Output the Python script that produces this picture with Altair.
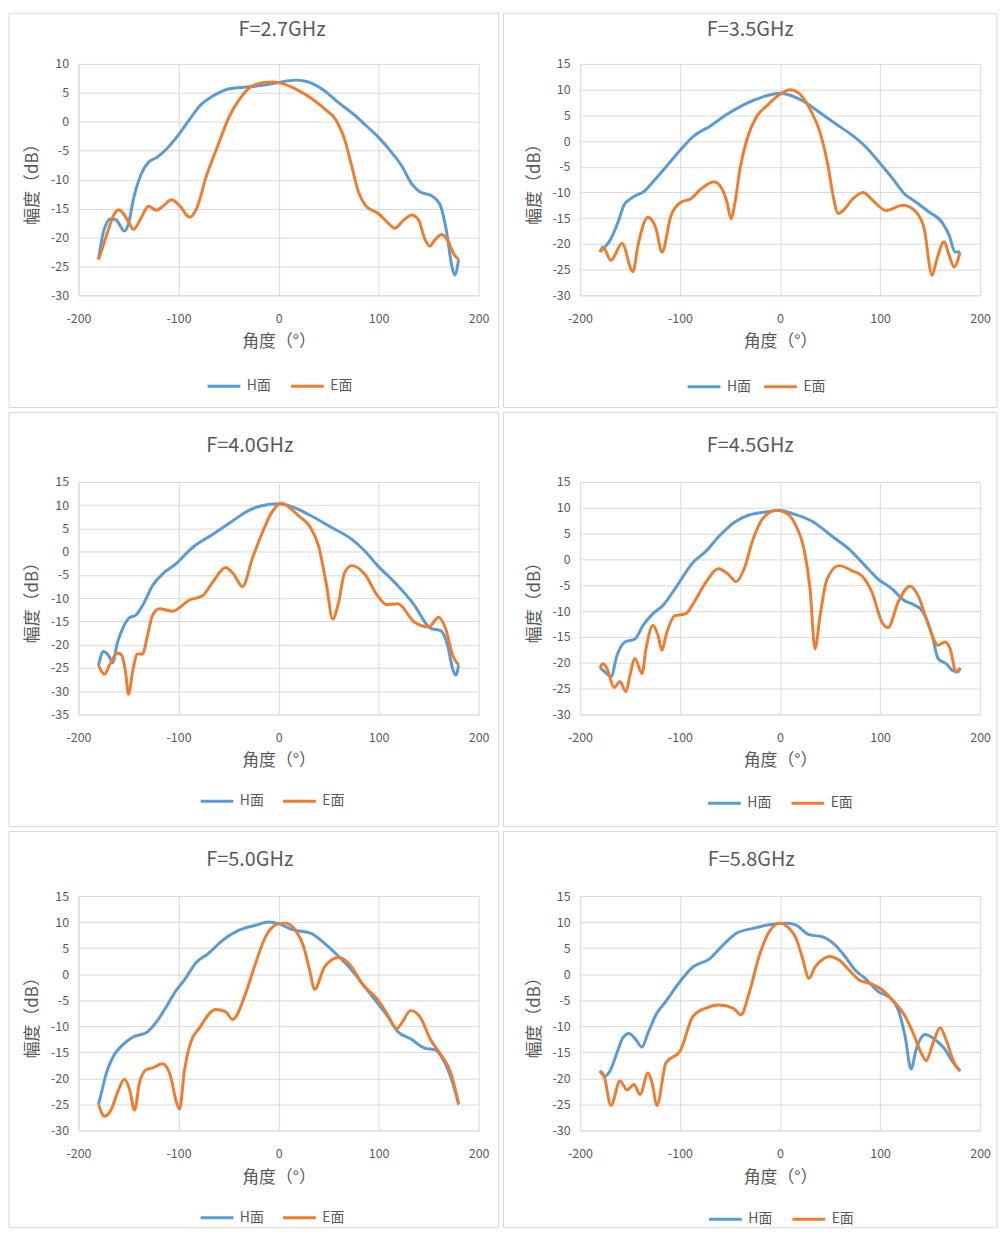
import altair as alt
import pandas as pd

FONT = "Noto Sans CJK SC"
TEXT_COLOR = "#595959"
GRID_COLOR = "#d9d9d9"
SERIES = ["H面", "E面"]
SERIES_COLORS = ["#5B9BD5", "#ED7D31"]
X_TITLE = "角度（°）"
Y_TITLE = "幅度（dB）"
X_TICKS = [-200, -100, 0, 100, 200]

TITLES = ["F=2.7GHz", "F=3.5GHz", "F=4.0GHz", "F=4.5GHz", "F=5.0GHz", "F=5.8GHz"]
Y_MIN = [-30, -30, -35, -30, -30, -30]
Y_MAX = [10, 15, 15, 15, 15, 15]

# ---- F = 2.7 GHz ----
H27_ANG = [-180, -175, -168, -163, -154, -150, -145, -138, -130, -122, -112, -102, -89, -79, -66, -49, -32, -16, 0,
           17, 27, 44, 60, 77, 87, 100, 113, 123, 133, 141, 153, 161, 168, 173, 176, 180]
H27_DB = [-23.8, -19.0, -16.8, -16.9, -18.9, -17.6, -13.3, -9.3, -7.0, -6.2, -4.7, -2.7, 0.4, 2.7, 4.4, 5.7, 6.0, 6.3, 6.8,
          7.2, 7.0, 5.6, 3.3, 1.0, -0.6, -2.7, -5.3, -7.6, -10.7, -12.1, -12.8, -14.2, -19.1, -24.8, -26.5, -23.8]
E27_ANG = [-180, -178, -171, -165, -160, -155, -150, -145, -138, -130, -122, -115, -107, -99, -89, -82, -72, -62, -49,
           -39, -26, -13, -6, 4, 21, 34, 47, 57, 67, 73, 80, 87, 100, 110, 116, 125, 133, 140, 146, 151, 156, 163,
           169, 176, 180]
E27_DB = [-23.8, -22.8, -19.1, -16.2, -15.2, -15.9, -17.3, -18.6, -16.8, -14.6, -15.3, -14.5, -13.5, -14.5, -16.5, -15.0,
          -9.3, -4.7, 1.0, 3.9, 6.2, 6.8, 6.9, 6.6, 5.3, 3.9, 2.1, 0.4, -3.6, -7.6, -12.2, -14.5, -15.9, -17.6, -18.4,
          -17.0, -16.1, -17.0, -20.2, -21.5, -20.5, -19.5, -20.5, -23.1, -23.8]

# ---- F = 3.5 GHz ----
H35_ANG = [-180, -175, -169, -162, -156, -147, -136, -126, -113, -99, -86, -70, -53, -36, -17, 0, 10, 23, 40, 56, 73,
           86, 99, 113, 123, 136, 149, 162, 169, 175, 180]
H35_DB = [-21.5, -20.6, -19.0, -15.8, -12.5, -10.9, -9.8, -7.7, -4.8, -1.6, 1.0, 2.9, 5.2, 7.1, 8.6, 9.3, 8.9, 7.8, 5.5,
          3.3, 1.0, -1.2, -4.1, -7.4, -10.0, -11.9, -13.8, -15.8, -18.3, -21.6, -21.6]
E35_ANG = [-180, -177, -169, -158, -147, -142, -132, -124, -118, -109, -99, -89, -79, -66, -58, -53, -49, -45, -40, -33,
           -23, -13, 0, 10, 20, 30, 40, 48, 53, 58, 63, 73, 83, 93, 106, 123, 136, 144, 152, 156, 164, 169, 174, 180]
E35_DB = [-21.6, -20.6, -23.2, -19.9, -25.4, -20.3, -14.8, -17.0, -21.6, -14.5, -11.9, -11.2, -9.3, -7.9, -9.3, -11.9,
          -15.1, -11.9, -5.4, 0.4, 4.9, 6.9, 9.1, 10.0, 9.1, 6.2, 1.7, -4.8, -10.6, -14.1, -13.5, -11.2, -10.0, -11.6,
          -13.5, -12.5, -13.8, -17.0, -26.1, -23.5, -19.6, -22.2, -24.5, -21.6]

# ---- F = 4.0 GHz ----
H40_ANG = [-180, -175, -169, -166, -161, -156, -149, -143, -136, -126, -116, -103, -86, -66, -46, -33, -17, 0, 13, 30,
           53, 73, 86, 99, 116, 136, 149, 152, 162, 169, 174, 177, 180]
H40_DB = [-24.4, -21.5, -22.7, -23.9, -19.5, -16.6, -14.2, -13.7, -11.6, -7.3, -4.8, -2.7, 0.9, 3.7, 6.6, 8.5, 9.9, 10.3,
          9.7, 8.0, 5.2, 2.7, 0.2, -3.0, -6.6, -11.6, -15.9, -16.5, -17.0, -20.2, -25.2, -26.6, -24.4]
E40_ANG = [-180, -174, -169, -161, -157, -153, -150, -146, -141, -136, -131, -126, -119, -106, -89, -76, -66, -53, -45,
           -36, -26, -17, -7, 3, 13, 20, 31, 40, 48, 54, 60, 66, 73, 86, 99, 108, 119, 136, 150, 160, 167, 174, 180]
E40_DB = [-24.4, -26.4, -24.4, -21.8, -22.2, -25.9, -30.7, -25.9, -22.0, -22.0, -18.0, -13.7, -12.3, -12.8, -10.4, -9.5,
          -6.6, -3.4, -4.8, -7.5, -1.3, 3.7, 8.4, 10.4, 9.1, 7.7, 5.5, 1.2, -7.3, -14.5, -10.9, -4.5, -3.0, -4.8, -9.5,
          -11.4, -11.2, -15.2, -16.2, -14.1, -16.6, -22.3, -24.4]

# ---- F = 4.5 GHz ----
H45_ANG = [-180, -175, -169, -163, -155, -145, -137, -127, -117, -104, -87, -74, -61, -44, -31, -14, 0, 12, 32, 52, 69,
           85, 98, 112, 123, 135, 142, 152, 158, 166, 173, 178, 180]
H45_DB = [-21.0, -21.8, -22.7, -18.6, -16.0, -15.4, -12.8, -10.5, -8.9, -5.4, -0.6, 1.6, 4.5, 7.4, 8.6, 9.2, 9.5, 8.9,
          7.4, 4.5, 2.0, -1.2, -3.8, -5.7, -7.8, -8.9, -9.9, -14.7, -19.2, -20.2, -21.6, -21.8, -21.0]
E45_ANG = [-180, -177, -173, -166, -160, -154, -150, -145, -138, -134, -127, -122, -118, -114, -105, -94, -86, -74, -62,
           -52, -44, -36, -27, -18, -4, 6, 16, 24, 30, 35, 40, 47, 59, 72, 82, 92, 102, 108, 118, 130, 138, 148, 158,
           165, 170, 176, 180]
E45_DB = [-21.0, -20.2, -21.1, -24.8, -23.7, -25.6, -22.4, -19.2, -22.1, -17.3, -12.8, -14.7, -17.6, -14.7, -10.9,
          -10.5, -8.3, -4.4, -1.8, -2.8, -4.3, -1.9, 3.9, 7.7, 9.5, 9.0, 6.5, 2.0, -5.7, -17.3, -10.9, -3.8, -1.2, -2.2,
          -3.2, -6.4, -12.2, -13.2, -8.3, -5.2, -7.0, -12.5, -16.6, -16.0, -17.3, -21.8, -21.0]

# ---- F = 5.0 GHz ----
H50_ANG = [-180, -177, -172, -165, -157, -146, -132, -123, -113, -103, -93, -83, -70, -56, -40, -23, -10, 0, 13, 33, 46,
           60, 73, 86, 99, 109, 119, 132, 146, 156, 166, 175, 180]
H50_DB = [-25.0, -22.7, -18.9, -15.7, -13.8, -12.1, -11.2, -9.4, -6.5, -3.3, -0.8, 2.1, 4.0, 6.5, 8.4, 9.4, 10.0, 9.7,
          8.6, 7.8, 5.9, 3.4, 0.8, -2.4, -5.6, -8.1, -11.0, -12.4, -14.2, -14.5, -17.0, -21.5, -25.0]
E50_ANG = [-180, -174, -167, -161, -154, -149, -144, -139, -132, -126, -116, -108, -102, -99, -94, -88, -79, -63, -53,
           -46, -33, -23, -13, 0, 7, 17, 25, 31, 36, 46, 60, 73, 83, 99, 109, 118, 123, 132, 141, 152, 162, 172, 180]
E50_DB = [-25.0, -27.3, -25.9, -22.7, -20.2, -22.1, -26.1, -20.8, -18.3, -18.0, -17.2, -19.6, -24.7, -25.9, -18.3,
          -13.2, -10.3, -6.8, -7.2, -8.7, -3.7, 2.1, 7.2, 9.7, 9.8, 8.4, 5.3, 0.8, -2.9, 1.4, 3.2, 1.4, -1.7, -4.9, -7.8,
          -10.5, -9.4, -7.0, -8.1, -12.6, -15.4, -18.9, -25.0]

# ---- F = 5.8 GHz ----
H58_ANG = [-180, -175, -170, -163, -157, -151, -144, -138, -132, -124, -114, -100, -87, -70, -57, -44, -27, -11, 6, 16,
           29, 42, 55, 65, 75, 85, 98, 112, 118, 125, 131, 136, 145, 155, 164, 173, 180]
H58_DB = [-18.6, -19.6, -18.6, -15.1, -12.2, -11.4, -12.6, -14.0, -11.3, -7.8, -5.2, -1.4, 1.4, 3.0, 5.6, 7.8, 8.8, 9.5,
          9.8, 9.4, 7.6, 7.2, 5.6, 3.4, 0.8, -0.8, -3.3, -4.9, -6.8, -11.9, -18.2, -14.5, -11.6, -12.6, -14.2, -17.0,
          -18.6]
E58_ANG = [-180, -176, -169, -160, -153, -146, -140, -132, -128, -123, -114, -100, -87, -74, -61, -47, -39, -31, -21,
           -11, 0, 9, 16, 22, 29, 35, 44, 49, 59, 69, 79, 92, 102, 112, 125, 133, 141, 146, 153, 160, 166, 174, 180]
E58_DB = [-18.6, -19.5, -25.2, -20.5, -22.2, -21.2, -23.1, -19.0, -20.8, -25.2, -17.0, -14.8, -8.1, -6.5, -5.9, -6.5,
          -7.8, -3.7, 3.4, 8.1, 9.8, 8.8, 6.9, 3.4, -0.8, 1.4, 3.0, 3.4, 2.7, 0.8, -1.1, -1.9, -3.0, -4.9, -8.1, -11.3,
          -15.1, -16.6, -13.2, -10.3, -12.6, -17.0, -18.6]

H_ANGLES = [H27_ANG, H35_ANG, H40_ANG, H45_ANG, H50_ANG, H58_ANG]
H_VALUES = [H27_DB, H35_DB, H40_DB, H45_DB, H50_DB, H58_DB]
E_ANGLES = [E27_ANG, E35_ANG, E40_ANG, E45_ANG, E50_ANG, E58_ANG]
E_VALUES = [E27_DB, E35_DB, E40_DB, E45_DB, E50_DB, E58_DB]

# layout per panel: (left, right, plot height, top, bottom,
#                    legend x, legend y, legend column padding, title dx, title y)
PLOT_W = 403
LAYOUT = [
    (70, 20, 233, 51, 113, 128.5, 306.5, 13, 3.5, -28.6),
    (77, 17, 233, 51, 113, 107, 307, 6, -30, -28.6),
    (70, 20, 234, 70, 113, 121.5, 303.5, 12, -29, -30),
    (77, 17, 234, 70, 113, 127.5, 305.5, 13, -30, -30),
    (70, 20, 236, 65, 98, 121.5, 306, 12, -29, -30.7),
    (77, 17, 236, 65, 98, 128.5, 307.5, 13, -29, -30.7),
]

NO_PAD = {"left": 0, "top": 0, "right": 0, "bottom": 0}


def panel(i):
    L, R, PH, T, B, lx, ly, cp, tdx, ty = LAYOUT[i]
    df_h = pd.DataFrame({"ang": H_ANGLES[i], "db": H_VALUES[i], "series": SERIES[0]})
    df_e = pd.DataFrame({"ang": E_ANGLES[i], "db": E_VALUES[i], "series": SERIES[1]})
    y_ticks = list(range(Y_MIN[i], Y_MAX[i] + 1, 5))
    one = pd.DataFrame({"k": [0]})

    x_enc = alt.X("ang:Q",
                  scale=alt.Scale(domain=[-200, 200], nice=False, zero=False),
                  axis=alt.Axis(values=X_TICKS, title=X_TITLE, labelPadding=17.5, labelFlush=False,
                                titleY=47, titleBaseline="middle", labelExpr="datum.value + ''"))
    y_enc = alt.Y("db:Q",
                  scale=alt.Scale(domain=[Y_MIN[i], Y_MAX[i]], nice=False, zero=False),
                  axis=alt.Axis(values=y_ticks, title=Y_TITLE, labelPadding=10, labelFlush=False,
                                titleX=-46, titleBaseline="middle", labelExpr="datum.value + ''"))
    legend = alt.Legend(orient="none", legendX=lx, legendY=ly, direction="horizontal",
                        title=None, symbolType="stroke", symbolSize=1089,
                        symbolStrokeWidth=3, labelFontSize=14, labelColor=TEXT_COLOR,
                        labelFont=FONT, labelOffset=5, columnPadding=cp, padding=0)
    c_enc = alt.Color("series:N", scale=alt.Scale(domain=SERIES, range=SERIES_COLORS),
                      legend=legend)

    frame = alt.Chart(one).mark_rect(
        filled=False, stroke=GRID_COLOR, strokeWidth=1
    ).encode(
        x=alt.value(-L), x2=alt.value(PLOT_W + R),
        y=alt.value(-T), y2=alt.value(PH + B),
    )
    title = alt.Chart(one).mark_text(
        text=TITLES[i], font=FONT, fontSize=20, color=TEXT_COLOR,
        align="center", baseline="alphabetic",
    ).encode(x=alt.value(PLOT_W / 2 + tdx), y=alt.value(ty))

    line_h = alt.Chart(df_h).mark_line(strokeWidth=3, interpolate="monotone").encode(
        x=x_enc, y=y_enc, color=c_enc)
    line_e = alt.Chart(df_e).mark_line(strokeWidth=3, interpolate="monotone").encode(
        x=x_enc, y=y_enc, color=c_enc)

    return alt.layer(frame, title, line_h, line_e).properties(width=PLOT_W, height=PH)


rows = []
for r in range(3):
    row = alt.hconcat(panel(2 * r), panel(2 * r + 1), spacing=3).resolve_scale(
        x="independent", y="independent", color="independent"
    ).resolve_legend(color="independent")
    rows.append(row)

chart = alt.vconcat(*rows, spacing=3).resolve_scale(
    x="independent", y="independent", color="independent"
).resolve_legend(color="independent").properties(
    padding=NO_PAD, background="white"
).configure(
    font=FONT, padding=NO_PAD
).configure_view(
    stroke="transparent"
).configure_axis(
    grid=True, gridColor=GRID_COLOR, gridWidth=1,
    domainColor=GRID_COLOR, domainWidth=1, ticks=False,
    labelColor=TEXT_COLOR, labelFontSize=12.5, labelFont=FONT,
    titleColor=TEXT_COLOR, titleFontSize=17, titleFontWeight="normal", titleFont=FONT,
)

chart.save("out.html", embed_options={"renderer": "svg", "actions": False})
